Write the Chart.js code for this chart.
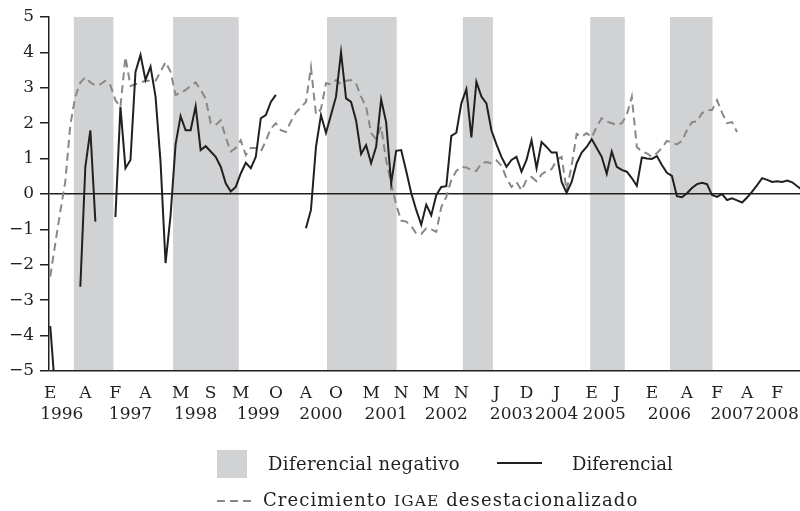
<!DOCTYPE html>
<html>
<head>
<meta charset="utf-8">
<script src="https://cdn.jsdelivr.net/npm/chart.js@4/dist/chart.umd.min.js"></script>
<style>
  html, body { margin: 0; padding: 0; background: #fff; }
  #wrap { position: relative; width: 800px; height: 511px; overflow: hidden; }
  #c { position: absolute; left: 0; top: 0; }
  .lg { position: absolute; font-family: "DejaVu Serif", serif; font-size: 18px; color: #231f20; white-space: nowrap; line-height: 1; }
  .wide { letter-spacing: 1.1px; }
  .sc { font-size: 15.5px; }
</style>
</head>
<body>
<div id="wrap">
  <canvas id="c" width="800" height="511"></canvas>
  <div class="lg" style="left:217px;top:450px;width:30px;height:28px;background:#d1d2d4"></div>
  <div class="lg" style="left:268px;top:455px;letter-spacing:0.35px">Diferencial negativo</div>
  <div class="lg" style="left:497px;top:462px;width:45px;height:2px;background:#231f20"></div>
  <div class="lg" style="left:572px;top:455px">Diferencial</div>
  <svg class="lg" style="left:217px;top:496px" width="36" height="10"><line x1="0" y1="5" x2="36" y2="5" stroke="#888" stroke-width="2" stroke-dasharray="8,5"/></svg>
  <div class="lg wide" style="left:263px;top:491px">Crecimiento <span class="sc">IGAE</span> desestacionalizado</div>
</div>
<script>
// Monthly observations, index 0 = enero 1996
const diferencial = [
  -3.73, -5.6, null, null, null, null, -2.62, 0.77, 1.8, -0.78,
  null, null, null, -0.65, 2.46, 0.73, 0.96, 3.45, 3.93, 3.22,
  3.6, 2.75, 0.9, -1.95, -0.6, 1.4, 2.2, 1.8, 1.8, 2.48,
  1.24, 1.35, 1.2, 1.05, 0.77, 0.3, 0.07, 0.2, 0.58, 0.88,
  0.73, 1.05, 2.14, 2.23, 2.6, 2.8, null, null, null, null,
  null, -0.97, -0.45, 1.33, 2.23, 1.73, 2.23, 2.75, 4.0, 2.7,
  2.6, 2.08, 1.13, 1.38, 0.87, 1.33, 2.67, 2.03, 0.3, 1.22,
  1.24, 0.65, 0.03, -0.45, -0.87, -0.3, -0.6, -0.03, 0.2, 0.22,
  1.64, 1.73, 2.56, 2.96, 1.6, 3.17, 2.75, 2.56, 1.8, 1.4,
  1.05, 0.77, 0.96, 1.05, 0.63, 0.96, 1.52, 0.73, 1.47, 1.33,
  1.17, 1.17, 0.34, 0.03, 0.34, 0.87, 1.17, 1.33, 1.55, 1.3,
  1.05, 0.57, 1.2, 0.77, 0.68, 0.63, 0.45, 0.23, 1.03, 1.0,
  0.99, 1.07, 0.82, 0.6, 0.51, -0.06, -0.09, 0.02, 0.17, 0.28,
  0.32, 0.28, -0.03, -0.08, 0.0, -0.17, -0.12, -0.18, -0.24, -0.1,
  0.07, 0.25, 0.45, 0.4, 0.34, 0.36, 0.34, 0.38, 0.33, 0.22,
  0.12
];

const crecimientoIGAE = [
  -2.33, -1.4, -0.5, 0.35, 1.95, 2.75, 3.15, 3.3, 3.15, 3.07,
  3.1, 3.2, 3.07, 2.65, 2.46, 3.87, 3.05, 3.1, 3.15, 3.2,
  3.2, 3.2, 3.45, 3.73, 3.45, 2.8, 2.85, 2.94, 3.05, 3.15,
  2.94, 2.7, 2.0, 1.95, 2.08, 1.6, 1.2, 1.3, 1.52, 1.1,
  1.3, 1.3, 1.2, 1.5, 1.85, 2.0, 1.8, 1.75, 2.05, 2.3,
  2.45, 2.6, 3.58, 2.25, 2.4, 3.13, 3.1, 3.22, 3.1, 3.2,
  3.22, 3.12, 2.75, 2.46, 1.72, 1.55, 1.9, 0.95, 0.3, -0.3,
  -0.75, -0.78, -0.9, -1.12, -1.13, -0.97, -1.0, -1.07, -0.37, -0.08,
  0.4, 0.65, 0.77, 0.75, 0.68, 0.65, 0.87, 0.9, 0.87, 0.95,
  0.8, 0.45, 0.2, 0.34, 0.1, 0.4, 0.48, 0.36, 0.55, 0.65,
  0.7, 0.96, 1.05, 0.1, 0.8, 1.7, 1.62, 1.72, 1.6, 1.9,
  2.14, 2.05, 2.0, 1.95, 2.0, 2.23, 2.75, 1.33, 1.2, 1.15,
  1.05, 1.15, 1.3, 1.5, 1.45, 1.4, 1.5, 1.8, 2.03, 2.05,
  2.28, 2.37, 2.37, 2.65, 2.3, 2.0, 2.03, 1.75
];

// Periods of negative differential, [start month, end month]
const negativeBands = [
  [4.7, 12.6], [24.5, 37.6], [55.2, 69.1], [82.3, 88.3], [107.7, 114.6], [123.6, 132.1]
];

// Axis labels: month initials and years
const monthTicks   = [0, 7, 13, 19, 26, 32, 38, 45, 51, 57, 64, 70, 76, 82, 89, 95, 101, 108, 113, 120, 127, 133, 139, 145];
const monthLetters = ['E','A','F','A','M','S','M','O','A','O','M','N','M','N','J','D','J','E','J','E','A','F','A','F'];
const yearTicks    = [2.3, 16, 29, 41.5, 54, 67, 79, 92, 101, 110.5, 123.5, 136, 145];
const yearLabels   = ['1996','1997','1998','1999','2000','2001','2002','2003','2004','2005','2006','2007','2008'];

const INK = '#231f20';
const FONT = { family: '"DejaVu Serif", serif', size: 17 };
const X_MIN = -0.25, X_MAX = 149.55;

const toPoints = arr => arr.map((v, i) => ({ x: i, y: v }));

const bandPlugin = {
  id: 'negativeBands',
  beforeDraw(chart) {
    const { ctx, chartArea, scales } = chart;
    const x = scales.x;
    ctx.save();
    ctx.fillStyle = '#d1d2d4';
    negativeBands.forEach(([a, b]) => {
      const x0 = x.getPixelForValue(a);
      const x1 = x.getPixelForValue(b);
      ctx.fillRect(x0, chartArea.top, x1 - x0, chartArea.bottom - chartArea.top);
    });
    ctx.restore();
  }
};

new Chart(document.getElementById('c'), {
  type: 'line',
  data: {
    datasets: [
      {
        label: 'Diferencial',
        data: toPoints(diferencial),
        borderColor: INK,
        borderWidth: 2,
        pointRadius: 0,
        tension: 0,
        spanGaps: false,
        clip: 0
      },
      {
        label: 'Crecimiento IGAE desestacionalizado',
        data: toPoints(crecimientoIGAE),
        borderColor: '#888888',
        borderWidth: 2,
        borderDash: [8, 5],
        pointRadius: 0,
        tension: 0,
        spanGaps: false,
        clip: 0
      }
    ]
  },
  options: {
    responsive: false,
    devicePixelRatio: 1,
    animation: false,
    layout: { padding: { top: 17, right: 0, left: 0, bottom: 86 } },
    plugins: { legend: { display: false }, tooltip: { enabled: false } },
    scales: {
      x: {
        type: 'linear',
        position: 'bottom',
        weight: 0,
        min: X_MIN,
        max: X_MAX,
        grid: { display: false, drawTicks: false },
        border: { display: false },
        afterBuildTicks: s => { s.ticks = monthTicks.map(v => ({ value: v })); },
        afterFit: s => { s.height = 32; },
        ticks: {
          autoSkip: false,
          maxRotation: 0,
          minRotation: 0,
          padding: 12,
          color: INK,
          font: FONT,
          callback: (v, i) => monthLetters[i]
        }
      },
      x2: {
        type: 'linear',
        position: 'bottom',
        weight: 1,
        min: X_MIN,
        max: X_MAX,
        grid: { display: false, drawTicks: false },
        border: { display: false },
        afterBuildTicks: s => { s.ticks = yearTicks.map(v => ({ value: v })); },
        afterFit: s => { s.height = 22; },
        ticks: {
          autoSkip: false,
          maxRotation: 0,
          minRotation: 0,
          padding: 1,
          color: INK,
          font: FONT,
          callback: (v, i) => yearLabels[i]
        }
      },
      y: {
        min: -5,
        max: 5,
        afterFit: s => { s.width = 49; },
        border: { display: true, color: INK, width: 1.5 },
        grid: {
          drawTicks: true,
          tickLength: 9,
          tickColor: INK,
          lineWidth: 1.5,
          color: c => (c.tick && (c.tick.value === 0 || c.tick.value === -5)) ? INK : 'rgba(0,0,0,0)'
        },
        ticks: {
          stepSize: 1,
          padding: 6,
          color: INK,
          font: FONT,
          callback: v => (v < 0 ? '\u2212' + Math.abs(v) : String(v))
        }
      }
    }
  },
  plugins: [bandPlugin]
});
</script>
</body>
</html>
